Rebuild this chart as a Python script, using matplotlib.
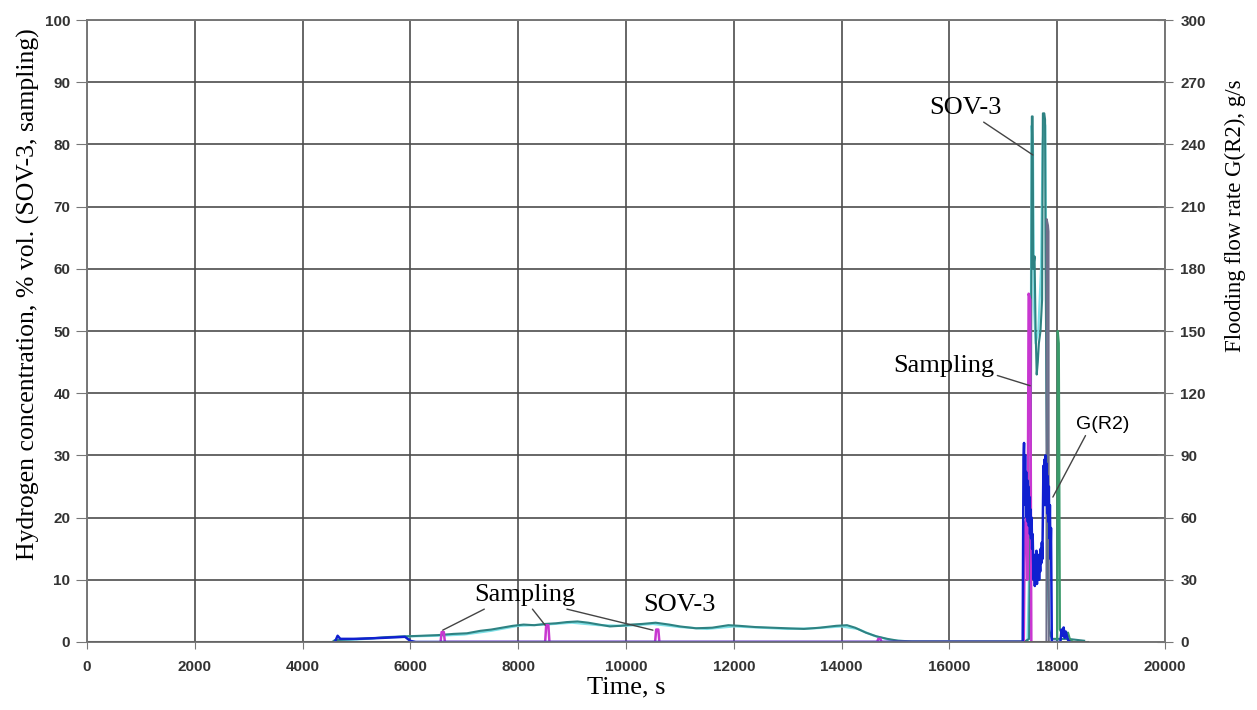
import matplotlib
matplotlib.use("Agg")
import matplotlib.pyplot as plt
import numpy as np

# hydrogen concentration, SOV-3 (dark teal trace)
sov3_t = [4550, 4600, 4800, 5000, 5300, 5600, 5900, 6200, 6500, 6800, 7050, 7300, 7500,
          7700, 7900, 8100, 8300, 8500, 8700, 8900, 9100, 9300, 9500, 9700, 9900, 10100,
          10300, 10550, 10800, 11000, 11300, 11600, 11900, 12100, 12400, 12700, 13000,
          13300, 13600, 13900, 14100, 14250, 14450, 14650, 14850, 15050, 15300, 16000,
          16500, 17000, 17400, 17480, 17510, 17530, 17545, 17555, 17580, 17600, 17620,
          17640, 17660, 17690, 17720, 17735, 17745, 17760, 17775, 17785, 17800, 17830,
          17850, 17900, 18200, 18500]
sov3_v = [0.0, 0.3, 0.4, 0.5, 0.6, 0.8, 0.9, 1.0, 1.1, 1.3, 1.4, 1.8, 2.0,
          2.3, 2.6, 2.8, 2.7, 2.9, 3.0, 3.2, 3.3, 3.1, 2.8, 2.5, 2.6, 2.8,
          2.9, 3.1, 2.8, 2.5, 2.2, 2.3, 2.7, 2.6, 2.4, 2.3, 2.2,
          2.1, 2.3, 2.6, 2.7, 2.3, 1.5, 0.9, 0.5, 0.2, 0.1, 0.1,
          0.1, 0.1, 0.1, 0.5, 30, 84.5, 84.5, 60, 62, 50, 43,
          45, 48, 50, 55, 85, 84.8, 85, 84, 62, 40, 10,
          2, 0.5, 0.5, 0.2]

# second SOV-3 trace (light cyan)
cyan_t = [4600, 5000, 5500, 6000, 6500, 7000, 7500, 8000, 8500, 9000, 9500, 10000,
          10500, 11000, 11500, 12000, 12500, 13000, 13500, 14000, 14300, 14600, 14900,
          15200, 17450, 17500, 17525, 17550, 17570, 17600, 17650, 17700, 17730, 17755,
          17780, 17800, 17820, 17850]
cyan_v = [0.2, 0.4, 0.7, 0.9, 1.0, 1.2, 1.8, 2.6, 2.8, 3.1, 2.7, 2.6,
          2.9, 2.4, 2.1, 2.5, 2.3, 2.1, 2.2, 2.5, 2.1, 1.0, 0.3,
          0.1, 0.1, 20, 83, 80, 54, 48, 50, 60, 80, 84,
          83, 50, 20, 1]

# hydrogen concentration, sampling
samp_t = [6560, 6580, 6620, 6640, 8500, 8520, 8560, 8580, 10540, 10560, 10600, 10620,
          14660, 14680, 14720, 14740, 17380, 17400, 17430, 17450, 17470, 17500, 17520]
samp_v = [0, 1.6, 1.6, 0, 0, 2.7, 2.7, 0, 0, 2.0, 2.0, 0,
          0, 0.5, 0.5, 0, 0, 19, 20, 10, 56, 55, 0]

# other gas traces near the end of the test
gray_t = [17800, 17805, 17830, 17840, 17845]
gray_v = [0, 68, 67, 66, 0]
green_t = [18000, 18010, 18030, 18050, 18080, 18120, 18160, 18200, 18240, 18300]
green_v = [0, 50, 48, 2, 1.5, 2, 1, 1.5, 0.3, 0]

# flooding flow rate G(R2), g/s
g_t = [4600, 4650, 4700, 5000, 5500, 5900, 6000, 6100,
       17360, 17375, 17385, 17395, 17405, 17415, 17425, 17435, 17445, 17455, 17465,
       17475, 17485, 17495, 17505, 17515, 17525, 17535, 17545, 17555, 17565, 17575,
       17585, 17595, 17605, 17615, 17625, 17635, 17645, 17655, 17665, 17675, 17685,
       17695, 17705, 17715, 17725, 17735, 17745, 17755, 17765, 17775, 17785, 17795,
       17805, 17815, 17825, 17835, 17845, 17855, 17865, 17875, 17885, 17895, 17900,
       18060, 18080, 18100, 18120, 18140, 18160, 18200, 18240]
g_v = [0, 3, 1.5, 1.5, 2, 2.5, 0.5, 0,
       0, 88, 96, 72, 90, 66, 82, 60, 78, 58, 75,
       56, 70, 52, 64, 50, 60, 45, 52, 38, 30, 42,
       27, 38, 30, 44, 28, 40, 32, 42, 30, 40, 34,
       45, 38, 48, 40, 62, 85, 70, 88, 66, 90, 72,
       86, 62, 80, 58, 75, 50, 66, 40, 55, 20, 0,
       0, 6, 3, 7, 2, 5, 1, 0]

rec_t = [0, 18550]
rec_v = [0, 0]

fig = plt.figure(figsize=(12.57, 7.10), dpi=100)
ax = fig.add_axes([0.0692, 0.0958, 0.8576, 0.876])
ax2 = ax.twinx()

grid_c = "#4d4d4d"
ax.set_xlim(0, 20000)
ax.set_ylim(0, 100)
ax2.set_ylim(0, 300)
ax.set_xticks(np.arange(0, 20001, 2000))
ax.set_yticks(np.arange(0, 101, 10))
ax2.set_yticks(np.arange(0, 301, 30))
ax.grid(True, color=grid_c, lw=1.2)
ax.set_axisbelow(True)

ax.plot(cyan_t, cyan_v, color="#7fe0e6", lw=1.6)
ax.plot(sov3_t, sov3_v, color="#2e8282", lw=1.5)
ax.plot(gray_t, gray_v, color="#6e6e8a", lw=1.4)
ax.plot(green_t, green_v, color="#3a9a6a", lw=1.6)
ax.plot(samp_t, samp_v, color="#c837d0", lw=1.8)
ax2.plot(g_t, g_v, color="#1020d0", lw=1.8)
ax.plot(rec_t, rec_v, color="#111111", lw=2.2, zorder=5)

for a in (ax, ax2):
    for lab in a.get_xticklabels() + a.get_yticklabels():
        lab.set_fontfamily(["Liberation Sans Narrow", "Liberation Sans"])
        lab.set_fontweight("bold")
        lab.set_fontsize(11)
        lab.set_color("#333333")
    for s in a.spines.values():
        s.set_color("#777777")
        s.set_linewidth(1.2)
ax.tick_params(axis="y", direction="out", length=8, color="#777777", pad=4)
ax.tick_params(axis="x", direction="out", length=5, color="#777777", pad=8)
ax2.tick_params(axis="y", direction="inout", length=12, color="#777777", pad=5)

serif = ["Liberation Serif", "DejaVu Serif"]
ax.set_xlabel("Time, s", family=serif, fontsize=19, labelpad=2)
ax.set_ylabel("Hydrogen concentration, % vol. (SOV-3, sampling)", family=serif, fontsize=18.5)
ax.yaxis.set_label_coords(-0.0436, 0.56)
ax2.set_ylabel("Flooding flow rate G(R2), g/s", family=serif, fontsize=16.5)
ax2.yaxis.set_label_coords(1.0557, 0.686)

lead = dict(arrowstyle="-", color="#444444", lw=1.0, shrinkA=0, shrinkB=0)
ax.annotate("SOV-3", xy=(17550, 78.3), xytext=(16290, 85.8), ha="center", va="center",
            family=serif, fontsize=19, arrowprops=dict(lead, relpos=(0.7, 0)))
ax.annotate("Sampling", xy=(17500, 41.2), xytext=(15900, 44.4), ha="center", va="center",
            family=serif, fontsize=19, arrowprops=dict(lead, relpos=(1.0, 0.1)))
ax.annotate("G(R2)", xy=(17920, 23.3), xytext=(18850, 35.0), ha="center", va="center",
            family=["Liberation Sans", "DejaVu Sans"], fontsize=14,
            arrowprops=dict(lead, relpos=(0.2, 0)))
for tip, rp in [((6600, 1.9), (0.15, 0)), ((8500, 2.7), (0.55, 0)), ((10500, 1.9), (0.8, 0))]:
    ax.annotate("Sampling", xy=tip, xytext=(8130, 7.5), ha="center", va="center",
                family=serif, fontsize=19, color="none",
                arrowprops=dict(lead, relpos=rp))
ax.text(8130, 7.5, "Sampling", ha="center", va="center", family=serif, fontsize=19)
ax.text(11000, 5.9, "SOV-3", ha="center", va="center", family=serif, fontsize=19)

fig.savefig("out.png", dpi=100)
